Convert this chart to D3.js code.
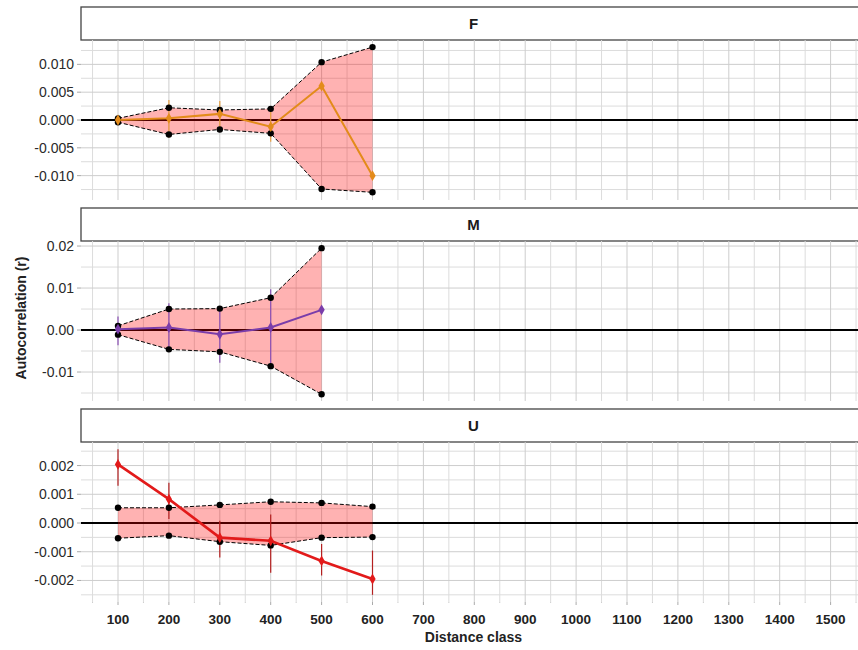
<!DOCTYPE html>
<html>
<head>
<meta charset="utf-8">
<script src="https://cdn.jsdelivr.net/npm/d3@7"></script>
<style>
  html, body { margin: 0; padding: 0; background: #fff; }
  svg { display: block; font-family: "Liberation Sans", Arial, sans-serif; }
</style>
</head>
<body>
<svg id="chart" width="858" height="650"></svg>
<script>
// ---------------- DATA ----------------
const xTicks = [100, 200, 300, 400, 500, 600, 700, 800, 900, 1000, 1100, 1200, 1300, 1400, 1500];

const F_dist  = [100, 200, 300, 400, 500, 600];
const F_r     = [0.0000, 0.0003, 0.0011, -0.0012, 0.0061, -0.0100];
const F_errHi = [0.0004, 0.0036, 0.0034, 0.0019, 0.0063, -0.0098];
const F_errLo = [-0.0004, -0.0032, -0.0012, -0.0039, 0.0059, -0.0102];
const F_upper = [0.0003, 0.0022, 0.0018, 0.0020, 0.0104, 0.0131];
const F_lower = [-0.0004, -0.0026, -0.0017, -0.0024, -0.0124, -0.0130];
const F_yTicks = [-0.010, -0.005, 0.000, 0.005, 0.010];
const F_yLabels = ["-0.010", "-0.005", "0.000", "0.005", "0.010"];

const M_dist  = [100, 200, 300, 400, 500];
const M_r     = [0.0002, 0.0006, -0.0010, 0.0006, 0.0048];
const M_errHi = [0.0032, 0.0064, 0.0050, 0.0097, 0.0050];
const M_errLo = [-0.0036, -0.0046, -0.0078, -0.0086, 0.0046];
const M_upper = [0.0010, 0.0050, 0.0051, 0.0077, 0.0195];
const M_lower = [-0.0011, -0.0046, -0.0052, -0.0086, -0.0153];
const M_yTicks = [-0.01, 0.00, 0.01, 0.02];
const M_yLabels = ["-0.01", "0.00", "0.01", "0.02"];

const U_dist  = [100, 200, 300, 400, 500, 600];
const U_r     = [0.00204, 0.00083, -0.00051, -0.00062, -0.00132, -0.00195];
const U_errHi = [0.00257, 0.00140, 0.00008, 0.00030, -0.00073, -0.00096];
const U_errLo = [0.00130, 0.00014, -0.00120, -0.00173, -0.00183, -0.00250];
const U_upper = [0.00053, 0.00053, 0.00063, 0.00074, 0.00070, 0.00057];
const U_lower = [-0.00053, -0.00044, -0.00065, -0.00078, -0.00051, -0.00049];
const U_yTicks = [-0.002, -0.001, 0.000, 0.001, 0.002];
const U_yLabels = ["-0.002", "-0.001", "0.000", "0.001", "0.002"];

const panelNames = ["F", "M", "U"];
const seriesColors = ["#E38B1A", "#7A3DAA", "#E21A1A"];
const errColors = ["#E9A040", "#8A4FB5", "#B42020"];

// ---------------- LAYOUT ----------------
const svg = d3.select("#chart");
const panelLeft = 81, panelRight = 866;
const stripH = 33, panelH = 160, facetStep = 201, top0 = 7;

const x = d3.scaleLinear().domain([100, 1500]).range([118, 830.6]);

const panels = [
  {name: panelNames[0], dist: F_dist, r: F_r, hi: F_errHi, lo: F_errLo, up: F_upper, low: F_lower,
   domain: [-0.01438, 0.01438], ticks: F_yTicks, labels: F_yLabels, minor: 0.0025},
  {name: panelNames[1], dist: M_dist, r: M_r, hi: M_errHi, lo: M_errLo, up: M_upper, low: M_lower,
   domain: [-0.0169, 0.0212], ticks: M_yTicks, labels: M_yLabels, minor: 0.005},
  {name: panelNames[2], dist: U_dist, r: U_r, hi: U_errHi, lo: U_errLo, up: U_upper, low: U_lower,
   domain: [-0.00275, 0.00282], ticks: U_yTicks, labels: U_yLabels, minor: 0.0005}
];

panels.forEach((p, i) => {
  const stripTop = top0 + i * facetStep;
  const pTop = stripTop + stripH;
  const pBot = pTop + panelH;
  const y = d3.scaleLinear().domain(p.domain).range([pBot, pTop]);
  const g = svg.append("g");

  const clipId = "clip" + i;
  svg.append("clipPath").attr("id", clipId).append("rect")
    .attr("x", panelLeft).attr("y", pTop).attr("width", panelRight - panelLeft).attr("height", panelH);

  // strip
  g.append("rect").attr("x", panelLeft).attr("y", stripTop)
    .attr("width", panelRight - panelLeft + 10).attr("height", stripH)
    .attr("fill", "#fff").attr("stroke", "#444").attr("stroke-width", 1.3);
  g.append("text").attr("x", (panelLeft + panelRight) / 2).attr("y", stripTop + stripH / 2 + 5)
    .attr("text-anchor", "middle").attr("font-weight", "bold").attr("font-size", 15)
    .attr("fill", "#1a1a1a").text(p.name);

  const pg = g.append("g").attr("clip-path", `url(#${clipId})`);

  // minor grid
  const minorY = [];
  for (let v = Math.ceil(p.domain[0] / p.minor) * p.minor; v <= p.domain[1] + 1e-12; v += p.minor) {
    if (!p.ticks.some(t => Math.abs(t - v) < p.minor / 10)) minorY.push(v);
  }
  pg.selectAll(".minY").data(minorY).enter().append("line")
    .attr("x1", panelLeft).attr("x2", panelRight)
    .attr("y1", d => y(d)).attr("y2", d => y(d))
    .attr("stroke", "#dcdcdc").attr("stroke-width", 1);
  const minorX = d3.range(50, 1600, 100);
  pg.selectAll(".minX").data(minorX).enter().append("line")
    .attr("x1", d => x(d)).attr("x2", d => x(d))
    .attr("y1", pTop).attr("y2", pBot)
    .attr("stroke", "#dcdcdc").attr("stroke-width", 1);
  // major grid
  pg.selectAll(".majY").data(p.ticks).enter().append("line")
    .attr("x1", panelLeft).attr("x2", panelRight)
    .attr("y1", d => y(d)).attr("y2", d => y(d))
    .attr("stroke", "#cdcdcd").attr("stroke-width", 1);
  pg.selectAll(".majX").data(xTicks).enter().append("line")
    .attr("x1", d => x(d)).attr("x2", d => x(d))
    .attr("y1", pTop).attr("y2", pBot)
    .attr("stroke", "#cdcdcd").attr("stroke-width", 1);

  // zero line
  pg.append("line").attr("x1", panelLeft).attr("x2", panelRight)
    .attr("y1", y(0)).attr("y2", y(0)).attr("stroke", "#000").attr("stroke-width", 2);

  // envelope
  const idx = d3.range(p.dist.length);
  const area = d3.area().x(k => x(p.dist[k])).y0(k => y(p.low[k])).y1(k => y(p.up[k]));
  pg.append("path").attr("d", area(idx)).attr("fill", "rgba(255,0,0,0.3)");
  const upLine = d3.line().x(k => x(p.dist[k])).y(k => y(p.up[k]));
  const loLine = d3.line().x(k => x(p.dist[k])).y(k => y(p.low[k]));
  [upLine, loLine].forEach(ln => {
    pg.append("path").attr("d", ln(idx)).attr("fill", "none")
      .attr("stroke", "#000").attr("stroke-width", 1).attr("stroke-dasharray", "4,2");
  });

  // error bars
  pg.selectAll(".err").data(idx).enter().append("line")
    .attr("x1", k => x(p.dist[k])).attr("x2", k => x(p.dist[k]))
    .attr("y1", k => y(p.lo[k])).attr("y2", k => y(p.hi[k]))
    .attr("stroke", errColors[i]).attr("stroke-width", 1.2);

  // r line
  const rLine = d3.line().x(k => x(p.dist[k])).y(k => y(p.r[k]));
  pg.append("path").attr("d", rLine(idx)).attr("fill", "none")
    .attr("stroke", seriesColors[i]).attr("stroke-width", i === 2 ? 2.6 : 2);

  // envelope points
  pg.selectAll(".pu").data(idx).enter().append("circle")
    .attr("cx", k => x(p.dist[k])).attr("cy", k => y(p.up[k])).attr("r", 3.2).attr("fill", "#000");
  pg.selectAll(".pl").data(idx).enter().append("circle")
    .attr("cx", k => x(p.dist[k])).attr("cy", k => y(p.low[k])).attr("r", 3.2).attr("fill", "#000");

  // r points (diamonds)
  pg.selectAll(".pr").data(idx).enter().append("path")
    .attr("transform", k => `translate(${x(p.dist[k])},${y(p.r[k])})`)
    .attr("d", d3.symbol().type(d3.symbolDiamond).size(34)())
    .attr("fill", seriesColors[i]);

  // y axis ticks & labels
  p.ticks.forEach((t, j) => {
    g.append("line").attr("x1", panelLeft - 4).attr("x2", panelLeft)
      .attr("y1", y(t)).attr("y2", y(t)).attr("stroke", "#aaa").attr("stroke-width", 1);
    g.append("text").attr("x", panelLeft - 7).attr("y", y(t) + 5)
      .attr("text-anchor", "end").attr("font-size", 14).attr("fill", "#2a2a2a").text(p.labels[j]);
  });

  // x axis on bottom panel
  if (i === 2) {
    xTicks.forEach(t => {
      g.append("line").attr("x1", x(t)).attr("x2", x(t))
        .attr("y1", pBot).attr("y2", pBot + 3).attr("stroke", "#aaa");
      g.append("text").attr("x", x(t)).attr("y", pBot + 22)
        .attr("text-anchor", "middle").attr("font-size", 13.5).attr("font-weight", "bold")
        .attr("fill", "#222").text(t);
    });
    minorX.forEach(t => {
      if (x(t) < 858) g.append("line").attr("x1", x(t)).attr("x2", x(t))
        .attr("y1", pBot).attr("y2", pBot + 1).attr("stroke", "#ccc");
    });
  }
});

// axis titles
svg.append("text").attr("x", (panelLeft + panelRight) / 2).attr("y", 642)
  .attr("text-anchor", "middle").attr("font-size", 14).attr("font-weight", "bold")
  .attr("fill", "#222").text("Distance class");
svg.append("text").attr("transform", "translate(26,318) rotate(-90)")
  .attr("text-anchor", "middle").attr("font-size", 14).attr("font-weight", "bold")
  .attr("fill", "#222").text("Autocorrelation (r)");
</script>
</body>
</html>
